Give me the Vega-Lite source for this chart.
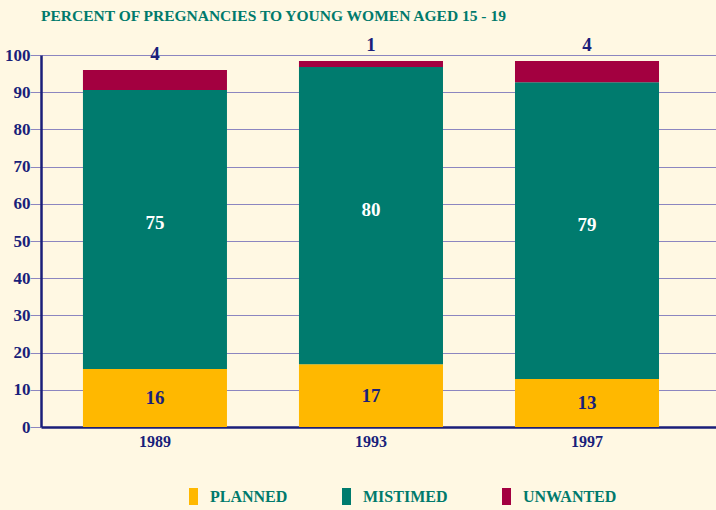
{
  "$schema": "https://vega.github.io/schema/vega-lite/v6.json",
  "autosize": {"type": "none"},
  "width": 675,
  "height": 372,
  "padding": {"left": 41, "top": 55, "right": 0, "bottom": 83},
  "background": "#FFF8E3",
  "title": {
    "text": "PERCENT OF PREGNANCIES TO YOUNG WOMEN AGED 15 - 19",
    "anchor": "start",
    "frame": "group",
    "baseline": "alphabetic",
    "font": "Liberation Serif",
    "fontSize": 15.5,
    "fontWeight": "bold",
    "color": "#007A6C",
    "offset": -1
  },
  "data": {
    "values": [
      {"year": "1989", "type": "Planned", "value": 15.6, "label": "16"},
      {"year": "1989", "type": "Mistimed", "value": 75.0, "label": "75"},
      {"year": "1989", "type": "Unwanted", "value": 5.4, "label": "4"},
      {"year": "1993", "type": "Planned", "value": 16.9, "label": "17"},
      {"year": "1993", "type": "Mistimed", "value": 79.9, "label": "80"},
      {"year": "1993", "type": "Unwanted", "value": 1.6, "label": "1"},
      {"year": "1997", "type": "Planned", "value": 12.9, "label": "13"},
      {"year": "1997", "type": "Mistimed", "value": 79.8, "label": "79"},
      {"year": "1997", "type": "Unwanted", "value": 5.7, "label": "4"}
    ]
  },
  "transform": [
    {"calculate": "indexof(['Planned','Mistimed','Unwanted'], datum.type)", "as": "rank"},
    {"stack": "value", "groupby": ["year"], "sort": [{"field": "rank", "order": "ascending"}], "as": ["y0", "y1"]},
    {"calculate": "(datum.y0 + datum.y1) / 2", "as": "mid"}
  ],
  "encoding": {
    "x": {
      "field": "year",
      "type": "ordinal",
      "scale": {"paddingInner": 0.3333, "paddingOuter": 0.229, "align": 0.424},
      "axis": {"title": null}
    }
  },
  "layer": [
    {
      "mark": {"type": "bar"},
      "encoding": {
        "y": {
          "field": "y0",
          "type": "quantitative",
          "scale": {"domain": [0, 100], "nice": false},
          "axis": {"title": null, "values": [0, 10, 20, 30, 40, 50, 60, 70, 80, 90, 100]}
        },
        "y2": {"field": "y1"},
        "color": {
          "field": "type",
          "type": "nominal",
          "scale": {
            "domain": ["Planned", "Mistimed", "Unwanted"],
            "range": ["#FFB800", "#007B6E", "#A30040"]
          },
          "legend": {
            "title": null,
            "orient": "none",
            "legendX": 144,
            "legendY": 433,
            "direction": "horizontal",
            "columns": 3,
            "columnPadding": 50,
            "symbolType": "M-0.53,-1h1.06v2h-1.06z",
            "symbolSize": 289,
            "symbolStrokeWidth": 0,
            "labelFont": "Liberation Serif",
            "labelFontWeight": "bold",
            "labelFontSize": 16,
            "labelColor": "#007A6C",
            "labelExpr": "upper(datum.label)",
            "labelOffset": 8
          }
        }
      }
    },
    {
      "transform": [{"filter": "datum.type == 'Planned'"}],
      "mark": {"type": "text", "font": "Liberation Serif", "fontWeight": "bold", "fontSize": 19, "color": "#1A1F7A", "baseline": "middle"},
      "encoding": {
        "y": {"field": "mid", "type": "quantitative", "axis": {"title": null, "values": [0, 10, 20, 30, 40, 50, 60, 70, 80, 90, 100]}},
        "text": {"field": "label"}
      }
    },
    {
      "transform": [{"filter": "datum.type == 'Mistimed'"}],
      "mark": {"type": "text", "font": "Liberation Serif", "fontWeight": "bold", "fontSize": 19, "color": "#FFFFFF", "baseline": "middle", "dy": -6},
      "encoding": {
        "y": {"field": "mid", "type": "quantitative", "axis": {"title": null, "values": [0, 10, 20, 30, 40, 50, 60, 70, 80, 90, 100]}},
        "text": {"field": "label"}
      }
    },
    {
      "transform": [{"filter": "datum.type == 'Unwanted'"}],
      "mark": {"type": "text", "font": "Liberation Serif", "fontWeight": "bold", "fontSize": 19, "color": "#1A1F7A", "baseline": "middle", "dy": -16},
      "encoding": {
        "y": {"field": "y1", "type": "quantitative", "axis": {"title": null, "values": [0, 10, 20, 30, 40, 50, 60, 70, 80, 90, 100]}},
        "text": {"field": "label"}
      }
    }
  ],
  "config": {
    "view": {"stroke": null},
    "axisY": {
      "labelOverlap": false,
      "grid": true,
      "gridColor": "#8C86C0",
      "gridWidth": 1,
      "gridOpacity": 1,
      "ticks": true,
      "tickColor": "#8C86C0",
      "tickSize": 11,
      "tickWidth": 1,
      "domainColor": "#1A1F7A",
      "domainWidth": 2.5,
      "labelFont": "Liberation Serif",
      "labelFontWeight": "bold",
      "labelFontSize": 17,
      "labelColor": "#1A1F7A",
      "labelPadding": 0
    },
    "axisX": {
      "labelAngle": 0,
      "ticks": false,
      "grid": false,
      "domainColor": "#1A1F7A",
      "domainWidth": 2.5,
      "labelFont": "Liberation Serif",
      "labelFontWeight": "bold",
      "labelFontSize": 16,
      "labelColor": "#1A1F7A",
      "labelPadding": 6
    }
  }
}
